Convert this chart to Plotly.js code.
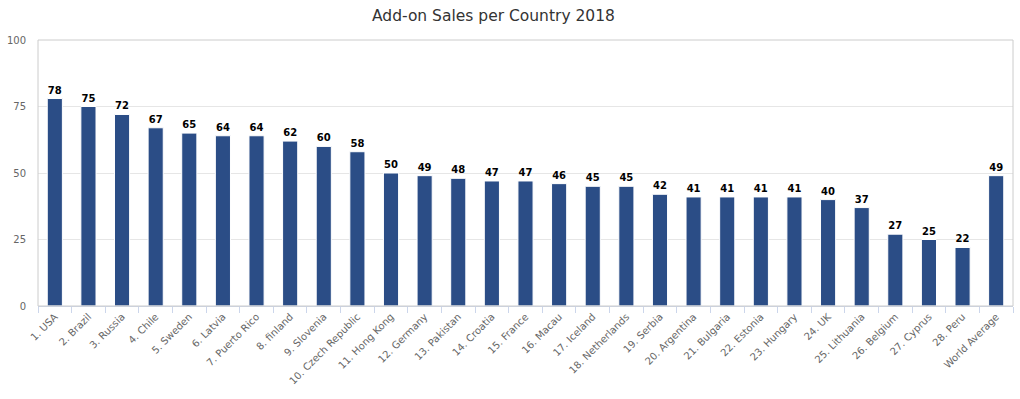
<!DOCTYPE html>
<html>
<head>
<meta charset="utf-8">
<script src="https://cdn.plot.ly/plotly-3.0.1.min.js"></script>
<style>html,body{margin:0;padding:0;background:#fff;}#chart{width:1020px;height:399px;}</style>
</head>
<body>
<div id="chart"></div>
<script>
const categories = ["1. USA","2. Brazil","3. Russia","4. Chile","5. Sweden","6. Latvia","7. Puerto Rico","8. finland","9. Slovenia","10. Czech Republic","11. Hong Kong","12. Germany","13. Pakistan","14. Croatia","15. France","16. Macau","17. Iceland","18. Netherlands","19. Serbia","20. Argentina","21. Bulgaria","22. Estonia","23. Hungary","24. UK","25. Lithuania","26. Belgium","27. Cyprus","28. Peru","World Average"];
const values = [78,75,72,67,65,64,64,62,60,58,50,49,48,47,47,46,45,45,42,41,41,41,41,40,37,27,25,22,49];
const yTicks = [0,25,50,75,100];

const trace = {
  type: 'bar',
  x: categories,
  y: values,
  marker: {color: '#2b4d86', line: {color: '#ffffff', width: 1}},
  text: values.map(String),
  textposition: 'outside',
  cliponaxis: false,
  textfont: {family: 'DejaVu Sans, sans-serif', size: 10, color: '#000000', weight: 'bold'},
  hoverinfo: 'x+y'
};

const layout = {
  width: 1020, height: 399,
  margin: {l: 38, r: 7, t: 40, b: 93},
  paper_bgcolor: '#ffffff', plot_bgcolor: '#ffffff',
  font: {family: 'DejaVu Sans, sans-serif', color: '#666666', size: 10},
  title: {text: 'Add-on Sales per Country 2018', x: 0.4838, xanchor: 'center', y: 0.962, yanchor: 'middle',
          font: {family: 'DejaVu Sans, sans-serif', size: 15.5, color: '#333333'}},
  bargap: 0.55,
  showlegend: false,
  xaxis: {
    type: 'category', tickangle: -45, showgrid: false, zeroline: false,
    showline: true, linecolor: '#ccd6eb', linewidth: 1,
    ticks: 'outside', tickson: 'boundaries', ticklen: 6, tickcolor: '#ccd6eb',
    tickfont: {size: 10, color: '#666666'}, automargin: false
  },
  yaxis: {
    range: [0, 100], tickvals: yTicks, ticktext: yTicks.map(String),
    showgrid: true, gridcolor: '#e6e6e6', zeroline: false, showline: false,
    ticks: '', ticklabelstandoff: 11, tickfont: {size: 10, color: '#666666'}, automargin: false
  },
  shapes: [
    {type: 'rect', xref: 'paper', yref: 'paper', x0: 0, x1: 1, y0: 0, y1: 1,
     line: {color: '#cccccc', width: 1}, fillcolor: 'rgba(0,0,0,0)', layer: 'above'}
  ]
};

Plotly.newPlot('chart', [trace], layout, {displayModeBar: false, staticPlot: true});
</script>
</body>
</html>
